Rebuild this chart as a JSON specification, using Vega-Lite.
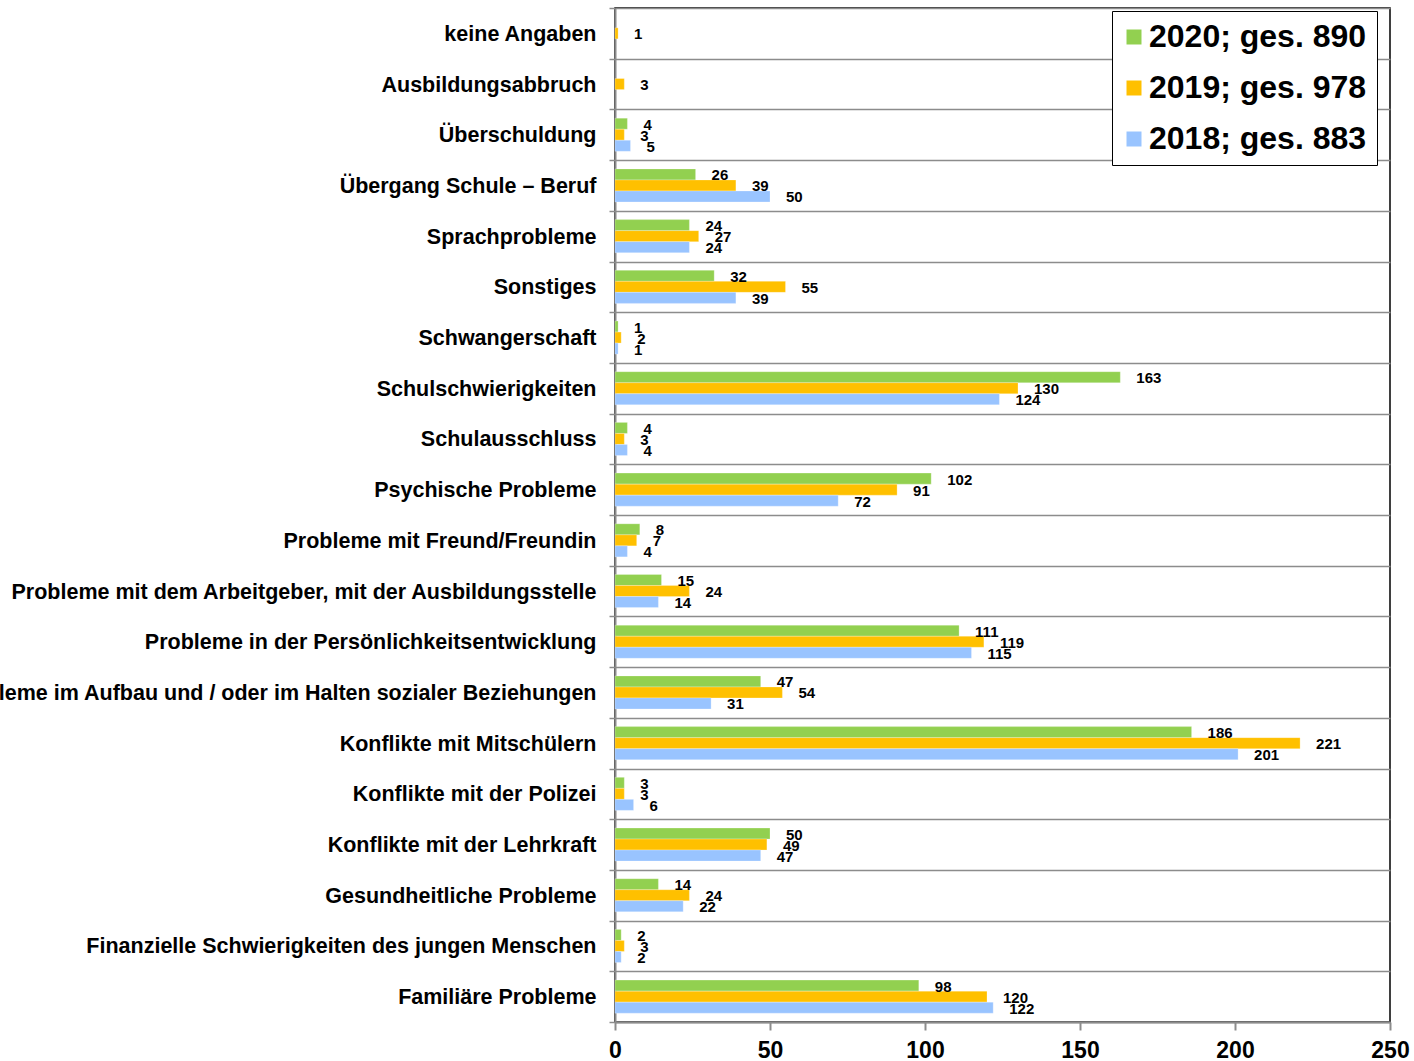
{
  "$schema": "https://vega.github.io/schema/vega-lite/v6.json",
  "width": 775,
  "height": 1014,
  "autosize": {"type": "none"},
  "padding": {"left": 615, "top": 8, "right": 24, "bottom": 39},
  "config": {
    "font": "Liberation Sans",
    "view": {"stroke": "#000000", "strokeWidth": 1.5}
  },
  "data": {
    "values": [
      {"cat": "keine Angaben", "series": "2019; ges. 978", "value": 1},
      {"cat": "Ausbildungsabbruch", "series": "2019; ges. 978", "value": 3},
      {"cat": "Überschuldung", "series": "2020; ges. 890", "value": 4},
      {"cat": "Überschuldung", "series": "2019; ges. 978", "value": 3},
      {"cat": "Überschuldung", "series": "2018; ges. 883", "value": 5},
      {"cat": "Übergang Schule – Beruf", "series": "2020; ges. 890", "value": 26},
      {"cat": "Übergang Schule – Beruf", "series": "2019; ges. 978", "value": 39},
      {"cat": "Übergang Schule – Beruf", "series": "2018; ges. 883", "value": 50},
      {"cat": "Sprachprobleme", "series": "2020; ges. 890", "value": 24},
      {"cat": "Sprachprobleme", "series": "2019; ges. 978", "value": 27},
      {"cat": "Sprachprobleme", "series": "2018; ges. 883", "value": 24},
      {"cat": "Sonstiges", "series": "2020; ges. 890", "value": 32},
      {"cat": "Sonstiges", "series": "2019; ges. 978", "value": 55},
      {"cat": "Sonstiges", "series": "2018; ges. 883", "value": 39},
      {"cat": "Schwangerschaft", "series": "2020; ges. 890", "value": 1},
      {"cat": "Schwangerschaft", "series": "2019; ges. 978", "value": 2},
      {"cat": "Schwangerschaft", "series": "2018; ges. 883", "value": 1},
      {"cat": "Schulschwierigkeiten", "series": "2020; ges. 890", "value": 163},
      {"cat": "Schulschwierigkeiten", "series": "2019; ges. 978", "value": 130},
      {"cat": "Schulschwierigkeiten", "series": "2018; ges. 883", "value": 124},
      {"cat": "Schulausschluss", "series": "2020; ges. 890", "value": 4},
      {"cat": "Schulausschluss", "series": "2019; ges. 978", "value": 3},
      {"cat": "Schulausschluss", "series": "2018; ges. 883", "value": 4},
      {"cat": "Psychische Probleme", "series": "2020; ges. 890", "value": 102},
      {"cat": "Psychische Probleme", "series": "2019; ges. 978", "value": 91},
      {"cat": "Psychische Probleme", "series": "2018; ges. 883", "value": 72},
      {"cat": "Probleme mit Freund/Freundin", "series": "2020; ges. 890", "value": 8},
      {"cat": "Probleme mit Freund/Freundin", "series": "2019; ges. 978", "value": 7},
      {"cat": "Probleme mit Freund/Freundin", "series": "2018; ges. 883", "value": 4},
      {"cat": "Probleme mit dem Arbeitgeber, mit der Ausbildungsstelle", "series": "2020; ges. 890", "value": 15},
      {"cat": "Probleme mit dem Arbeitgeber, mit der Ausbildungsstelle", "series": "2019; ges. 978", "value": 24},
      {"cat": "Probleme mit dem Arbeitgeber, mit der Ausbildungsstelle", "series": "2018; ges. 883", "value": 14},
      {"cat": "Probleme in der Persönlichkeitsentwicklung", "series": "2020; ges. 890", "value": 111},
      {"cat": "Probleme in der Persönlichkeitsentwicklung", "series": "2019; ges. 978", "value": 119},
      {"cat": "Probleme in der Persönlichkeitsentwicklung", "series": "2018; ges. 883", "value": 115},
      {"cat": "Probleme im Aufbau und / oder im Halten sozialer Beziehungen", "series": "2020; ges. 890", "value": 47},
      {"cat": "Probleme im Aufbau und / oder im Halten sozialer Beziehungen", "series": "2019; ges. 978", "value": 54},
      {"cat": "Probleme im Aufbau und / oder im Halten sozialer Beziehungen", "series": "2018; ges. 883", "value": 31},
      {"cat": "Konflikte mit Mitschülern", "series": "2020; ges. 890", "value": 186},
      {"cat": "Konflikte mit Mitschülern", "series": "2019; ges. 978", "value": 221},
      {"cat": "Konflikte mit Mitschülern", "series": "2018; ges. 883", "value": 201},
      {"cat": "Konflikte mit der Polizei", "series": "2020; ges. 890", "value": 3},
      {"cat": "Konflikte mit der Polizei", "series": "2019; ges. 978", "value": 3},
      {"cat": "Konflikte mit der Polizei", "series": "2018; ges. 883", "value": 6},
      {"cat": "Konflikte mit der Lehrkraft", "series": "2020; ges. 890", "value": 50},
      {"cat": "Konflikte mit der Lehrkraft", "series": "2019; ges. 978", "value": 49},
      {"cat": "Konflikte mit der Lehrkraft", "series": "2018; ges. 883", "value": 47},
      {"cat": "Gesundheitliche Probleme", "series": "2020; ges. 890", "value": 14},
      {"cat": "Gesundheitliche Probleme", "series": "2019; ges. 978", "value": 24},
      {"cat": "Gesundheitliche Probleme", "series": "2018; ges. 883", "value": 22},
      {"cat": "Finanzielle Schwierigkeiten des jungen Menschen", "series": "2020; ges. 890", "value": 2},
      {"cat": "Finanzielle Schwierigkeiten des jungen Menschen", "series": "2019; ges. 978", "value": 3},
      {"cat": "Finanzielle Schwierigkeiten des jungen Menschen", "series": "2018; ges. 883", "value": 2},
      {"cat": "Familiäre Probleme", "series": "2020; ges. 890", "value": 98},
      {"cat": "Familiäre Probleme", "series": "2019; ges. 978", "value": 120},
      {"cat": "Familiäre Probleme", "series": "2018; ges. 883", "value": 122}
    ]
  },
  "encoding": {
    "y": {
      "field": "cat",
      "type": "nominal",
      "sort": [
        "keine Angaben", "Ausbildungsabbruch", "Überschuldung", "Übergang Schule – Beruf",
        "Sprachprobleme", "Sonstiges", "Schwangerschaft", "Schulschwierigkeiten",
        "Schulausschluss", "Psychische Probleme", "Probleme mit Freund/Freundin",
        "Probleme mit dem Arbeitgeber, mit der Ausbildungsstelle",
        "Probleme in der Persönlichkeitsentwicklung",
        "Probleme im Aufbau und / oder im Halten sozialer Beziehungen",
        "Konflikte mit Mitschülern", "Konflikte mit der Polizei", "Konflikte mit der Lehrkraft",
        "Gesundheitliche Probleme", "Finanzielle Schwierigkeiten des jungen Menschen",
        "Familiäre Probleme"
      ],
      "scale": {"paddingInner": 0, "paddingOuter": 0},
      "axis": {
        "title": null,
        "tickBand": "extent",
        "grid": true,
        "gridColor": "#8c8c8c",
        "gridWidth": 1.5,
        "domainColor": "#8c8c8c",
        "domainWidth": 2,
        "tickColor": "#8c8c8c",
        "tickWidth": 1.5,
        "tickSize": 6,
        "labelPadding": 13,
        "labelFontSize": 21.5,
        "labelFontWeight": "bold",
        "labelColor": "#000000",
        "labelLimit": 0,
        "labelOffset": 1
      }
    },
    "yOffset": {
      "field": "series",
      "type": "nominal",
      "sort": ["2020; ges. 890", "2019; ges. 978", "2018; ges. 883"],
      "scale": {"paddingInner": 0, "paddingOuter": 0.8}
    },
    "x": {
      "field": "value",
      "type": "quantitative",
      "scale": {"domain": [0, 250], "nice": false},
      "axis": {
        "title": null,
        "grid": false,
        "values": [0, 50, 100, 150, 200, 250],
        "domainColor": "#8c8c8c",
        "domainWidth": 2,
        "tickColor": "#8c8c8c",
        "tickWidth": 2,
        "tickSize": 8,
        "labelPadding": 9,
        "labelFontSize": 23,
        "labelFontWeight": "bold",
        "labelColor": "#000000",
        "labelFlush": false
      }
    }
  },
  "layer": [
    {
      "mark": {"type": "bar", "stroke": "#ffffff", "strokeOpacity": 0.5, "strokeWidth": 0.5},
      "encoding": {
        "color": {
          "field": "series",
          "type": "nominal",
          "sort": ["2020; ges. 890", "2019; ges. 978", "2018; ges. 883"],
          "scale": {
            "domain": ["2020; ges. 890", "2019; ges. 978", "2018; ges. 883"],
            "range": ["#92D050", "#FFC000", "#99C4FF"]
          },
          "legend": {
            "title": null,
            "orient": "none",
            "legendX": 497,
            "legendY": 3,
            "strokeColor": "#000000",
            "fillColor": "#ffffff",
            "padding": 10,
            "rowPadding": 19,
            "labelFontSize": 32,
            "labelFontWeight": "bold",
            "labelColor": "#000000",
            "labelLimit": 0,
            "labelOffset": -1,
            "symbolOffset": -4,
            "symbolType": "square",
            "symbolSize": 225,
            "symbolStrokeWidth": 0,
            "symbolOpacity": 1
          }
        }
      }
    },
    {
      "mark": {"type": "text", "align": "left", "baseline": "middle", "dx": 16, "dy": 1, "fontSize": 15, "fontWeight": "bold", "color": "#000000"},
      "encoding": {
        "text": {"field": "value", "type": "quantitative"}
      }
    }
  ]
}
